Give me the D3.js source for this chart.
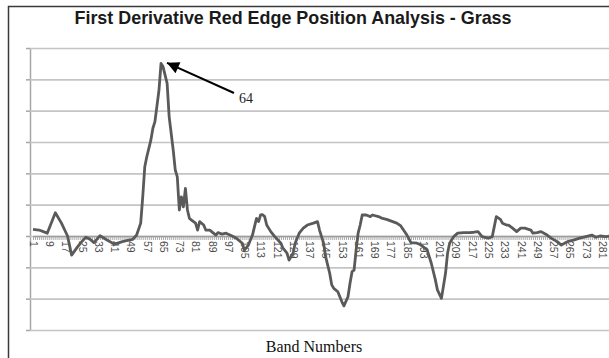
<!DOCTYPE html>
<html>
<head>
<meta charset="utf-8">
<script src="https://cdn.jsdelivr.net/npm/d3@7"></script>
<style>
  body { margin: 0; background: #fff; }
  svg { display: block; }
</style>
</head>
<body>
<svg id="chart" width="609" height="358"></svg>
<script>
// First-derivative reflectance of grass, traced per band number
const bands = [1, 4, 8, 12, 15, 18, 20, 23, 25, 27, 29, 31, 34, 37, 41, 45, 47, 50, 52, 54,
  55, 56, 57, 59, 60, 61, 63, 64, 65, 67, 68, 70, 71, 72, 73, 74, 75, 76, 77, 78, 79, 81, 82, 83, 85, 86, 88,
  91, 92, 94, 96, 99, 101, 104, 105, 107, 109, 110, 111, 112, 113, 114, 115, 116, 118, 120,
  123, 124, 126, 127, 129, 130, 132, 134, 136, 139, 141, 142, 144, 145, 147, 148, 149, 151, 152, 153, 154,
  156, 157, 158, 159, 160, 161, 162, 163, 165, 167, 168, 171, 173, 175, 178, 180, 182, 185,
  187, 190, 192, 195, 197, 199, 200, 202, 204, 205, 206, 208, 210, 213, 216, 218, 220, 222, 225, 227,
  229, 231, 232, 234, 235, 237, 239, 241, 243, 246, 247, 249, 251, 254, 256, 259, 261, 264, 267, 270,
  273, 276, 278, 280, 283, 285];
const derivative = [0.21, 0.19, 0.09, 0.74, 0.41, 0.00, -0.61, -0.34, -0.18, -0.04, -0.10, -0.21, 0.01, -0.11, -0.26, -0.18, -0.15, -0.11, 0.03, 0.41,
  1.25, 2.21, 2.53, 3.06, 3.44, 3.65, 4.66, 5.51, 5.40, 4.87, 3.81, 2.74, 2.11, 1.89, 0.83, 1.25, 0.93, 1.52, 0.83, 0.56, 0.51, 0.41, 0.19, 0.46, 0.35, 0.19, 0.19,
  0.03, 0.11, 0.06, 0.09, 0.00, -0.07, -0.23, -0.45, -0.29, 0.03, 0.30, 0.56, 0.46, 0.67, 0.68, 0.62, 0.35, 0.14, -0.02,
  -0.23, -0.39, -0.55, -0.77, -0.55, -0.23, 0.09, 0.25, 0.35, 0.41, 0.46, 0.19, -0.23, -0.66, -1.19, -1.56, -1.67, -1.78, -1.94, -2.10, -2.23,
  -1.94, -1.51, -1.14, -1.09, -0.45, 0.09, 0.35, 0.67, 0.67, 0.62, 0.67, 0.62, 0.56, 0.53, 0.46, 0.41, 0.32, 0.03,
  -0.21, -0.23, -0.29, -0.45, -0.87, -1.40, -1.72, -1.99, -1.19, -0.55, -0.23, -0.02, 0.09, 0.11, 0.11, 0.12, 0.14, -0.02, -0.07, -0.02,
  0.62, 0.53, 0.41, 0.35, 0.35, 0.25, 0.14, 0.25, 0.25, 0.19, 0.09, 0.11, 0.14, 0.03, -0.07, -0.18, -0.29, -0.18, -0.13, -0.07,
  -0.02, 0.03, -0.04, 0.00, -0.02, 0.00];

// Category labels shown under the zero line
const bandLabels = [1, 9, 17, 25, 33, 41, 49, 57, 65, 73, 81, 89, 97, 105, 113, 121, 129, 137,
  145, 153, 161, 169, 177, 185, 193, 201, 209, 217, 225, 233, 241, 249, 257, 265, 273, 281];
const gridValues = [-3, -2, -1, 0, 1, 2, 3, 4, 5, 6];
const peakBand = 64;
const title = "First Derivative Red Edge Position Analysis - Grass";
const xTitle = "Band Numbers";

const svg = d3.select("#chart");
const W = 609, H = 358;
const plot = { left: 30, right: 612, top: 48, bottom: 330 };

const x = d3.scaleLinear().domain([1, 281]).range([33, 602]);
const y = d3.scaleLinear().domain([-3, 6]).range([plot.bottom, plot.top]);

// outer frame
svg.append("path")
  .attr("d", `M8.5,${H} V6.5 H${W}`)
  .attr("fill", "none").attr("stroke", "#3a3a3a").attr("stroke-width", 1.5);

// title
svg.append("text")
  .attr("x", 293).attr("y", 24)
  .attr("text-anchor", "middle")
  .attr("font-family", "'Liberation Sans', Arial, sans-serif")
  .attr("font-weight", "bold").attr("font-size", 19)
  .attr("textLength", 437).attr("lengthAdjust", "spacingAndGlyphs")
  .attr("fill", "#1a1a1a")
  .text(title);

// horizontal gridlines with small ticks on the value axis
const yAxis = svg.append("g")
  .attr("transform", `translate(${plot.left},0)`)
  .call(d3.axisLeft(y).tickValues(gridValues).tickFormat("").tickSize(4).tickSizeOuter(0));
yAxis.select(".domain").attr("stroke", "#a6a6a6").attr("stroke-width", 1.5);
yAxis.selectAll(".tick line").attr("stroke", "#a6a6a6").attr("stroke-width", 1.5);
yAxis.selectAll(".tick").append("line")
  .attr("x1", 0).attr("x2", W - plot.left)
  .attr("stroke", "#c4c4c4").attr("stroke-width", 1.6);

// category axis along zero: one tick per band
const allBands = d3.range(1, 286);
const xAxis = svg.append("g")
  .attr("transform", `translate(0,${y(0)})`)
  .call(d3.axisBottom(x).tickValues(allBands).tickFormat("").tickSize(4).tickSizeOuter(0));
xAxis.select(".domain").attr("stroke", "#9a9a9a").attr("stroke-width", 1.5);
xAxis.selectAll(".tick line").attr("stroke", "#a0a0a0").attr("stroke-width", 0.9);

// rotated band labels
const labelAxis = svg.append("g")
  .attr("transform", `translate(0,${y(0)})`)
  .call(d3.axisBottom(x).tickValues(bandLabels).tickFormat(d3.format("d")).tickSize(0));
labelAxis.select(".domain").remove();
labelAxis.selectAll("text")
  .attr("transform", "rotate(90)")
  .attr("x", 5).attr("y", 0).attr("dy", "0.35em")
  .attr("text-anchor", "start")
  .attr("font-family", "'Liberation Sans', Arial, sans-serif")
  .attr("font-size", 10.5)
  .attr("fill", "#4a4a4a");

// derivative curve
const series = bands.map((b, i) => ({ band: b, value: derivative[i] }));
svg.append("path")
  .datum(series)
  .attr("fill", "none")
  .attr("stroke", "#5a5a5a")
  .attr("stroke-width", 2.8)
  .attr("stroke-linejoin", "round")
  .attr("d", d3.line().x(d => x(d.band)).y(d => y(d.value)));

// peak annotation
const peak = series.find(d => d.band === peakBand);
const tipX = x(peak.band) + 6, tipY = y(peak.value) - 0.5;
svg.append("defs").append("marker")
  .attr("id", "arrowhead")
  .attr("viewBox", "0 0 10 10").attr("refX", 10).attr("refY", 5)
  .attr("markerUnits", "userSpaceOnUse")
  .attr("markerWidth", 14).attr("markerHeight", 12)
  .attr("orient", "auto")
  .append("path").attr("d", "M0,0 L10,5 L0,10 Z").attr("fill", "#000");
svg.append("line")
  .attr("x1", 234).attr("y1", 93)
  .attr("x2", tipX).attr("y2", tipY)
  .attr("stroke", "#000").attr("stroke-width", 2)
  .attr("marker-end", "url(#arrowhead)");
svg.append("text")
  .attr("x", 239).attr("y", 103)
  .attr("font-family", "'Liberation Serif', 'Times New Roman', serif")
  .attr("font-size", 14)
  .attr("fill", "#222")
  .text(String(peakBand));

// axis title
svg.append("text")
  .attr("x", 314).attr("y", 352)
  .attr("text-anchor", "middle")
  .attr("font-family", "'Liberation Serif', 'Times New Roman', serif")
  .attr("font-size", 16)
  .attr("fill", "#111")
  .text(xTitle);
</script>
</body>
</html>
